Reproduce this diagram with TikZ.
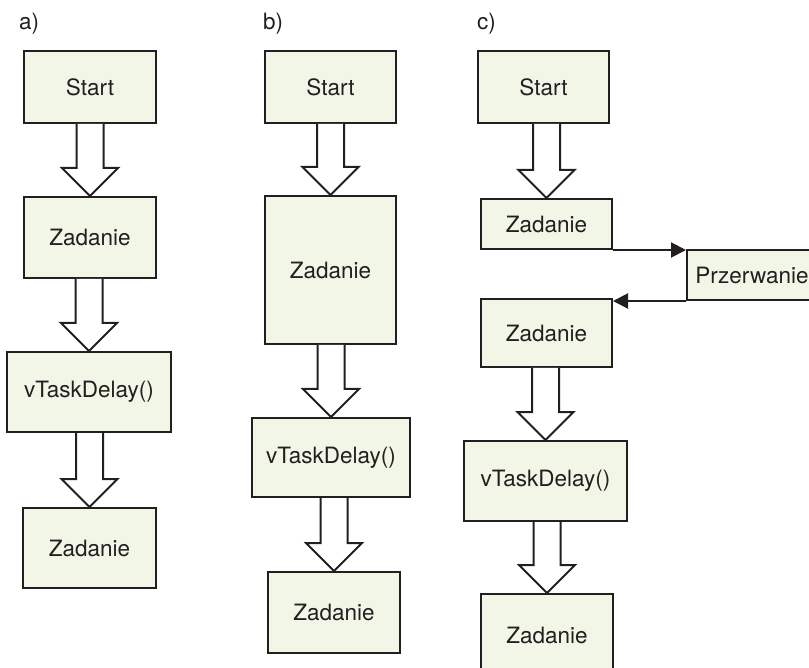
\documentclass[tikz,border=0pt]{standalone}
\usepackage{fontspec}
\setmainfont{TeX Gyre Heros}
\usetikzlibrary{arrows.meta,calc}
\definecolor{boxfill}{HTML}{F2F6E6}
\definecolor{ink}{HTML}{231F20}
\tikzset{
  box/.style={draw=ink, fill=boxfill, line width=2pt, inner sep=0pt,
    text=ink, font=\fontsize{22.5}{27}\selectfont},
  panel/.style={anchor=west, text=ink, inner sep=0pt, font=\fontsize{22.5}{27}\selectfont},
  bigarr/.style={draw=ink, fill=white, line width=2pt, line join=miter},
  irq/.style={draw=ink, line width=2pt, -{Triangle[length=15pt,width=15pt]}}
}
% hollow block arrow from the bottom of #1 to the top of #2
\newcommand\hollowarrow[2]{%
  \path[bigarr] let \p1=(#1.south), \p2=(#2.north) in
    (\x2-13.5pt,\y1) -- (\x2-13.5pt,\y2+28pt) -- (\x2-28pt,\y2+28pt) --
    (\x2,\y2) -- (\x2+28pt,\y2+28pt) -- (\x2+13.5pt,\y2+28pt) --
    (\x2+13.5pt,\y1);}
\begin{document}
\begin{tikzpicture}[x=1pt,y=-1pt]
\useasboundingbox (0,0) rectangle (809,668);
\clip (0,0) rectangle (809,668);

% panel labels
\node[panel] (la) at (19,24) {a)};
\node[panel] (lb) at (263,24) {b)};
\node[panel] (lc) at (477,24) {c)};

% a)
\node[box, minimum width=132pt, minimum height=72pt] (sa) at (90,87) {Start};
\node[box, minimum width=132pt, minimum height=81pt] (za1) at (90,237.5) {Zadanie};
\node[box, minimum width=164pt, minimum height=80pt] (va) at (89,392) {vTaskDelay()};
\node[box, minimum width=133pt, minimum height=80pt] (za2) at (89.5,548) {Zadanie};
\hollowarrow{sa}{za1}
\hollowarrow{za1}{va}
\hollowarrow{va}{za2}

% b)
\node[box, minimum width=131pt, minimum height=72pt] (sb) at (330.5,87) {Start};
\node[box, minimum width=131pt, minimum height=148pt] (zb1) at (330.5,270) {Zadanie};
\node[box, minimum width=158pt, minimum height=79pt] (vb) at (331,457.5) {vTaskDelay()};
\node[box, minimum width=132pt, minimum height=81pt] (zb2) at (334,612.5) {Zadanie};
\hollowarrow{sb}{zb1}
\hollowarrow{zb1}{vb}
\hollowarrow{vb}{zb2}

% c)
\node[box, minimum width=131pt, minimum height=72pt] (sc) at (543.5,87) {Start};
\node[box, minimum width=131pt, minimum height=50pt] (zc1) at (546.5,224) {Zadanie};
\node[box, minimum width=130pt, minimum height=50pt] (prz) at (752,275) {Przerwanie};
\node[box, minimum width=131pt, minimum height=68pt] (zc2) at (546.5,333) {Zadanie};
\node[box, minimum width=163pt, minimum height=80pt] (vc) at (545.5,481) {vTaskDelay()};
\node[box, minimum width=132pt, minimum height=82pt] (zc3) at (547,635) {Zadanie};
\hollowarrow{sc}{zc1}
\hollowarrow{zc2}{vc}
\hollowarrow{vc}{zc3}
\draw[irq] (zc1.south east) -- (zc1.south east -| prz.west);
\draw[irq] (prz.south west) -- (prz.south west -| zc2.east);
\end{tikzpicture}
\end{document}
